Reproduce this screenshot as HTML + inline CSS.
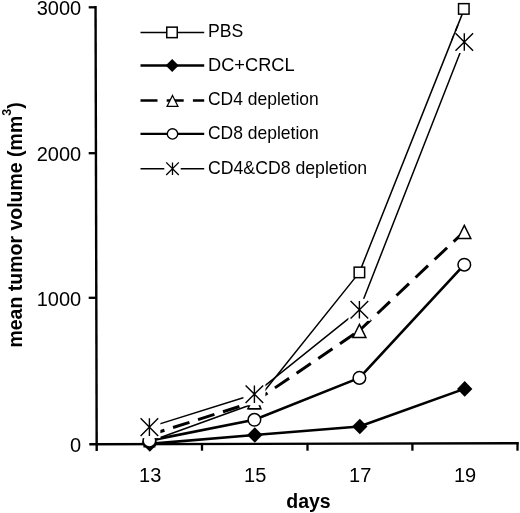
<!DOCTYPE html>
<html><head><meta charset="utf-8"><style>
html,body{margin:0;padding:0;background:#fff;}
svg{display:block;}
#wrap{width:520px;height:513px;will-change:transform;}
text{font-family:"Liberation Sans",sans-serif;fill:#000;}
.t20{font-size:20px;}
.b20{font-size:20px;font-weight:bold;}
.t17{font-size:17.9px;}
.sup{font-size:12.5px;font-weight:bold;}
.b19{font-size:19.5px;font-weight:bold;}
</style></head><body><div id="wrap">
<svg width="520" height="513" viewBox="0 0 520 513">
<rect width="520" height="513" fill="#fff"/>
<line x1="95.55" y1="6" x2="96.7" y2="451" stroke="#000" stroke-width="2.4"/>
<line x1="89.3" y1="444.2" x2="518.8" y2="443.3" stroke="#000" stroke-width="2.4"/>
<line x1="88.7" y1="7.3" x2="96" y2="7.3" stroke="#000" stroke-width="2.3"/>
<line x1="88.7" y1="153.2" x2="96" y2="153.2" stroke="#000" stroke-width="2.3"/>
<line x1="88.7" y1="297.8" x2="96" y2="297.8" stroke="#000" stroke-width="2.3"/>
<line x1="202" y1="443.5" x2="202" y2="450.7" stroke="#000" stroke-width="2.3"/>
<line x1="307.5" y1="443.5" x2="307.5" y2="450.7" stroke="#000" stroke-width="2.3"/>
<line x1="412.4" y1="443.5" x2="412.4" y2="450.7" stroke="#000" stroke-width="2.3"/>
<line x1="517.5" y1="443.5" x2="517.5" y2="450.7" stroke="#000" stroke-width="2.3"/>
<text x="81.2" y="15.3" text-anchor="end" class="t20">3000</text>
<text x="81.2" y="161.2" text-anchor="end" class="t20">2000</text>
<text x="81.2" y="305.8" text-anchor="end" class="t20">1000</text>
<text x="81.2" y="451.8" text-anchor="end" class="t20">0</text>
<text x="150.2" y="481.8" text-anchor="middle" class="t20">13</text>
<text x="255.2" y="481.8" text-anchor="middle" class="t20">15</text>
<text x="360.2" y="481.8" text-anchor="middle" class="t20">17</text>
<text x="465.1" y="481.8" text-anchor="middle" class="t20">19</text>
<text x="308.5" y="507.5" text-anchor="middle" class="b19" id="days">days</text>
<text transform="translate(22.1,347.6) rotate(-90)" class="b19" id="ytitle">mean tumor volume (mm<tspan class="sup" dy="-11.3">3</tspan><tspan dy="11.3">)</tspan></text>
<polyline points="149.4,441.5 254.4,403.5 359.4,272.4 464.3,8.9" fill="none" stroke="#000" stroke-width="1.5" stroke-linejoin="round"/>
<rect x="144.15" y="436.25" width="10.5" height="10.5" fill="#fff" stroke="#000" stroke-width="1.5"/>
<rect x="249.15" y="398.25" width="10.5" height="10.5" fill="#fff" stroke="#000" stroke-width="1.5"/>
<rect x="354.15" y="267.15" width="10.5" height="10.5" fill="#fff" stroke="#000" stroke-width="1.5"/>
<rect x="458.55" y="3.65" width="10.5" height="10.5" fill="#fff" stroke="#000" stroke-width="1.5"/>
<polyline points="149.4,443.9 254.4,435 359.4,426.5 464.3,388.9" fill="none" stroke="#000" stroke-width="2.6" stroke-linejoin="round"/>
<polygon points="149.8,436.1 157.5,443.9 149.8,451.7 142.1,443.9" fill="#000"/>
<polygon points="254.8,427.2 262.5,435 254.8,442.8 247.1,435" fill="#000"/>
<polygon points="359.8,418.7 367.5,426.5 359.8,434.3 352.1,426.5" fill="#000"/>
<polygon points="464.7,381.1 472.4,388.9 464.7,396.7 457,388.9" fill="#000"/>
<polyline points="149.4,435 254.4,401.8" fill="none" stroke="#000" stroke-width="3.0" stroke-linejoin="round" stroke-dasharray="17.2 9" stroke-dashoffset="1.4"/>
<polyline points="254.4,401.8 359.4,330.5" fill="none" stroke="#000" stroke-width="3.0" stroke-linejoin="round" stroke-dasharray="17.2 9" stroke-dashoffset="1.4"/>
<polyline points="359.4,330.5 464.3,231.5" fill="none" stroke="#000" stroke-width="3.0" stroke-linejoin="round" stroke-dasharray="17.2 9" stroke-dashoffset="1.4"/>
<polygon points="149.4,428.9 155.9,441.9 142.9,441.9" fill="#fff" stroke="#000" stroke-width="1.5" stroke-linejoin="miter"/>
<polygon points="254.4,395.7 260.9,408.7 247.9,408.7" fill="#fff" stroke="#000" stroke-width="1.5" stroke-linejoin="miter"/>
<polygon points="359.4,324.4 365.9,337.4 352.9,337.4" fill="#fff" stroke="#000" stroke-width="1.5" stroke-linejoin="miter"/>
<polygon points="464.3,225.4 470.8,238.4 457.8,238.4" fill="#fff" stroke="#000" stroke-width="1.5" stroke-linejoin="miter"/>
<polyline points="149.4,440.6 254.4,419.8 359.4,377.9 464.3,264.7" fill="none" stroke="#000" stroke-width="2.6" stroke-linejoin="round"/>
<circle cx="149.4" cy="440.6" r="6.3" fill="#fff" stroke="#000" stroke-width="1.5"/>
<circle cx="254.4" cy="419.8" r="6.3" fill="#fff" stroke="#000" stroke-width="1.5"/>
<circle cx="359.4" cy="377.9" r="6.3" fill="#fff" stroke="#000" stroke-width="1.5"/>
<circle cx="464.3" cy="264.7" r="6.3" fill="#fff" stroke="#000" stroke-width="1.5"/>
<polyline points="149.4,427.1 254.4,394.2 359.4,309.8 464.3,42" fill="none" stroke="#000" stroke-width="1.5" stroke-linejoin="round"/>
<rect x="138.4" y="416.1" width="22" height="22" fill="#fff"/><path d="M140.6,418.3L158.2,435.9M158.2,418.3L140.6,435.9M149.4,418.3L149.4,435.9" stroke="#000" stroke-width="1.4" fill="none"/>
<rect x="243.4" y="383.2" width="22" height="22" fill="#fff"/><path d="M245.6,385.4L263.2,403M263.2,385.4L245.6,403M254.4,385.4L254.4,403" stroke="#000" stroke-width="1.4" fill="none"/>
<rect x="348.4" y="298.8" width="22" height="22" fill="#fff"/><path d="M350.6,301L368.2,318.6M368.2,301L350.6,318.6M359.4,301L359.4,318.6" stroke="#000" stroke-width="1.4" fill="none"/>
<rect x="453.3" y="31" width="22" height="22" fill="#fff"/><path d="M455.5,33.2L473.1,50.8M473.1,33.2L455.5,50.8M464.3,33.2L464.3,50.8" stroke="#000" stroke-width="1.4" fill="none"/>
<line x1="451.92" y1="40" x2="457.89" y2="25" stroke="#000" stroke-width="1.5"/>
<polyline points="140.5,32.4 204.2,32.4" fill="none" stroke="#000" stroke-width="1.5" stroke-linejoin="round"/>
<rect x="166.75" y="27.15" width="10.5" height="10.5" fill="#fff" stroke="#000" stroke-width="1.5"/>
<polyline points="140.5,65.6 204.2,65.6" fill="none" stroke="#000" stroke-width="2.5" stroke-linejoin="round"/>
<polygon points="172.2,59.1 178.7,65.6 172.2,72.1 165.7,65.6" fill="#000"/>
<line x1="140.5" y1="100.5" x2="204.2" y2="100.5" stroke="#000" stroke-width="2.6" stroke-dasharray="17 9.2"/>
<polygon points="172.5,95.5 177.9,106.3 167.1,106.3" fill="#fff" stroke="#000" stroke-width="1.3" stroke-linejoin="miter"/>
<polyline points="140.5,133.9 204.2,133.9" fill="none" stroke="#000" stroke-width="2.4" stroke-linejoin="round"/>
<circle cx="172.5" cy="133.9" r="5.2" fill="#fff" stroke="#000" stroke-width="1.4"/>
<polyline points="140.5,168.7 204.2,168.7" fill="none" stroke="#000" stroke-width="1.5" stroke-linejoin="round"/>
<rect x="164.3" y="160.5" width="16.4" height="16.4" fill="#fff"/><path d="M166.2,162.4L178.8,175M178.8,162.4L166.2,175M172.5,162.4L172.5,175" stroke="#000" stroke-width="1.3" fill="none"/>
<text x="208" y="37.3" class="t17" id="leg0" textLength="35.3" lengthAdjust="spacingAndGlyphs">PBS</text>
<text x="208" y="70.5" class="t17" id="leg1" textLength="86.6" lengthAdjust="spacingAndGlyphs">DC+CRCL</text>
<text x="208" y="105.4" class="t17" id="leg2" textLength="110.7" lengthAdjust="spacingAndGlyphs">CD4 depletion</text>
<text x="208" y="138.8" class="t17" id="leg3" textLength="110.7" lengthAdjust="spacingAndGlyphs">CD8 depletion</text>
<text x="208" y="173.6" class="t17" id="leg4" textLength="159.2" lengthAdjust="spacingAndGlyphs">CD4&amp;CD8 depletion</text>
</svg></div>
</body></html>
